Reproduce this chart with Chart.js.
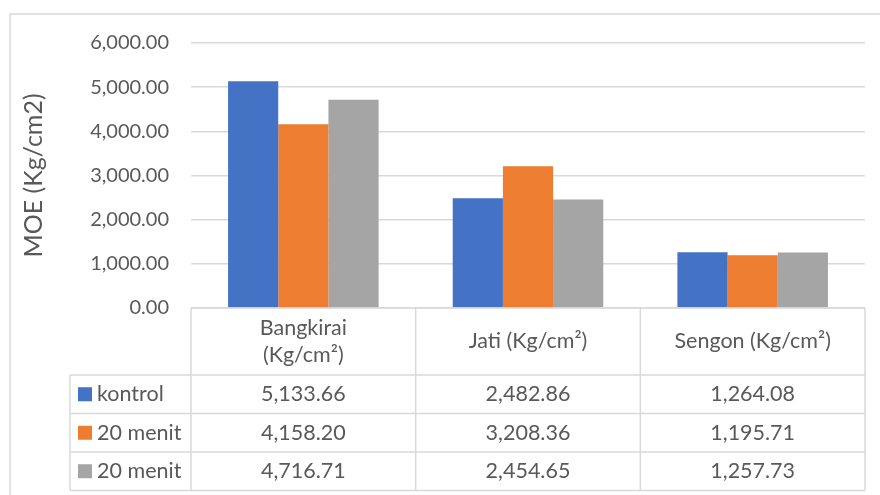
<!DOCTYPE html>
<html>
<head>
<meta charset="utf-8">
<script src="https://cdn.jsdelivr.net/npm/chart.js@4/dist/chart.umd.min.js"></script>
<style>
    html, body { margin: 0; padding: 0; background: #fff; }
    #wrap { width: 880px; height: 495px; }
</style>
</head>
<body>
<div id="wrap"><canvas id="moe-chart" width="880" height="495"></canvas></div>
<script>
const categories = [['Bangkirai', '(Kg/cm²)'], 'Jati (Kg/cm²)', 'Sengon (Kg/cm²)'];
const seriesNames = ['kontrol', '20 menit', '20 menit'];
const seriesColors = ['#4472C4', '#ED7D31', '#A5A5A5'];
const kontrol = [5133.66, 2482.86, 1264.08];
const menit20a = [4158.20, 3208.36, 1195.71];
const menit20b = [4716.71, 2454.65, 1257.73];
const yMax = 6000;
const yStep = 1000;
const yTitle = 'MOE (Kg/cm2)';

const FONT = 'Lato, "Liberation Sans", sans-serif';
const TEXT = '#595959';
const LINE = '#D9D9D9';

const fmt = v => v.toLocaleString('en-US', { minimumFractionDigits: 2, maximumFractionDigits: 2 });

// frame round the whole chart, like the Excel chart area border
const framePlugin = {
    id: 'frame',
    beforeDraw(chart) {
        const ctx = chart.ctx;
        ctx.save();
        ctx.fillStyle = '#fff';
        ctx.fillRect(0, 0, chart.width, chart.height);
        ctx.strokeStyle = LINE;
        ctx.lineWidth = 1.5;
        ctx.strokeRect(10, 14, chart.width + 20, chart.height + 20);
        ctx.restore();
    }
};

// data table under the plot, columns follow the x scale
const tablePlugin = {
    id: 'dataTable',
    afterDraw(chart) {
        const { ctx, chartArea } = chart;
        const xScale = chart.scales.x;
        const n = categories.length;
        const colW = chartArea.width / n;
        const top = chartArea.bottom;
        const headerBottom = top + 67;
        const rowH = 38.5;
        const tableBottom = headerBottom + rowH * chart.data.datasets.length;
        const legendLeft = 70;

        ctx.save();
        ctx.strokeStyle = LINE;
        ctx.lineWidth = 1.5;
        ctx.beginPath();
        // header top line
        ctx.moveTo(chartArea.left, top);
        ctx.lineTo(chartArea.right, top);
        // row lines
        for (let r = 0; r <= chart.data.datasets.length; r++) {
            const y = headerBottom + r * rowH;
            ctx.moveTo(legendLeft, y);
            ctx.lineTo(chartArea.right, y);
        }
        // column lines
        for (let i = 0; i <= n; i++) {
            const x = chartArea.left + i * colW;
            ctx.moveTo(x, top);
            ctx.lineTo(x, tableBottom);
        }
        ctx.moveTo(legendLeft, headerBottom);
        ctx.lineTo(legendLeft, tableBottom);
        ctx.stroke();

        ctx.fillStyle = TEXT;
        ctx.font = '21.5px ' + FONT;
        ctx.textAlign = 'center';
        ctx.textBaseline = 'middle';

        // header labels
        categories.forEach((cat, i) => {
            const cx = xScale.getPixelForValue(i);
            const lines = Array.isArray(cat) ? cat : [cat];
            const lh = 27;
            const midY = (top + headerBottom) / 2;
            lines.forEach((line, k) => {
                ctx.fillText(line, cx, midY + (k - (lines.length - 1) / 2) * lh);
            });
        });

        // values + legend keys
        chart.data.datasets.forEach((ds, r) => {
            const cy = headerBottom + r * rowH + rowH / 2;
            ds.data.forEach((v, i) => {
                ctx.textAlign = 'center';
                ctx.fillText(fmt(v), xScale.getPixelForValue(i), cy);
            });
            ctx.fillStyle = ds.backgroundColor;
            ctx.fillRect(78, cy - 7, 14, 14);
            ctx.fillStyle = TEXT;
            ctx.textAlign = 'left';
            ctx.fillText(ds.label, 97, cy);
        });
        ctx.restore();
    }
};

const seriesValues = [kontrol, menit20a, menit20b];

new Chart(document.getElementById('moe-chart'), {
    type: 'bar',
    data: {
        labels: categories,
        datasets: seriesNames.map((name, i) => ({
            label: name,
            data: seriesValues[i],
            backgroundColor: seriesColors[i],
            borderWidth: 0,
            barPercentage: 1,
            categoryPercentage: 0.67
        }))
    },
    options: {
        responsive: false,
        animation: false,
        layout: { padding: { left: 10, top: 43, right: 15, bottom: 187 } },
        plugins: {
            legend: { display: false },
            tooltip: { enabled: false }
        },
        scales: {
            x: { display: false },
            y: {
                min: 0,
                max: yMax,
                afterFit: scale => { scale.width = 181; },
                ticks: {
                    stepSize: yStep,
                    padding: 22,
                    color: TEXT,
                    font: { family: FONT, size: 20 },
                    callback: v => fmt(v)
                },
                grid: { color: LINE, lineWidth: 1.5, drawTicks: false },
                border: { display: false },
                title: {
                    display: true,
                    text: yTitle,
                    color: TEXT,
                    font: { family: FONT, size: 25 },
                    padding: { top: 9, bottom: 0 }
                }
            }
        }
    },
    plugins: [framePlugin, tablePlugin]
});
</script>
</body>
</html>
